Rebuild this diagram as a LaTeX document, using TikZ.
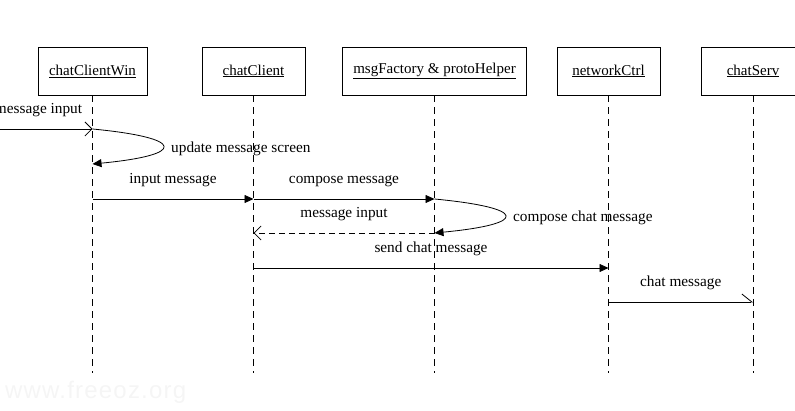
\documentclass[tikz,border=0pt]{standalone}
\usepackage{fontspec}
\setmainfont{Liberation Serif}
\setsansfont{Liberation Sans}
\newfontfamily\wmfont[LetterSpace=5.0]{Liberation Sans}
\usepackage{xcolor}
\usetikzlibrary{arrows.meta}

\tikzset{
  obj/.style={draw, line width=0.8pt, minimum width=103pt, minimum height=48pt,
    inner xsep=11pt, font=\fontsize{15}{18}\selectfont},
  lifeline/.style={line width=0.8pt, dash pattern=on 7pt off 5pt},
  msg/.style={line width=0.8pt, -{Triangle[length=9pt,width=8pt]}},
  ret/.style={line width=0.8pt, dash pattern=on 6pt off 4pt, -{Straight Barb[length=7pt,width=14pt]}},
  async/.style={line width=0.8pt, -{Straight Barb[left,length=10pt,width=16pt]}},
  lbl/.style={font=\fontsize{15.3}{18}\selectfont, inner sep=0pt},
  mlbl/.style={lbl, midway, anchor=base, yshift=15pt}
}

\begin{document}
\begin{tikzpicture}[x=1pt,y=-1pt]
\useasboundingbox (0,0) rectangle (795,411);

% objects
\node[obj] (win)  at (92.5,71) {\underline{chatClientWin}};
\node[obj] (cli)  at (253.5,71) {\underline{chatClient}};
\node[obj] (fac)  at (434.5,71) {\underline{msgFactory \& protoHelper}};
\node[obj] (net)  at (608.5,71) {\underline{networkCtrl}};
\node[obj] (serv) at (753,71) {\underline{chatServ}};

% lifelines
\foreach \o in {win,cli,fac,net,serv}{
\draw[lifeline] (\o.south) -- (\o.south |- 0,373);
}

% messages
\coordinate (ext) at (0,129);
\draw[line width=0.8pt, -{Straight Barb[length=7pt,width=14pt]}] (ext) -- (win.south |- 0,129)
  node[lbl, anchor=base east, xshift=-10pt, yshift=15pt] {message input};
\draw[msg] (win.south |- 0,129) .. controls +(94,9) and +(94,-9) .. (win.south |- 0,164);
\node[lbl, anchor=west] (upd) at (171,149) {update message screen};

\draw[msg] (win.south |- 0,199) -- (cli.south |- 0,199) node[mlbl] {input message};
\draw[msg] (cli.south |- 0,199) -- (fac.south |- 0,199) node[mlbl] {compose message};
\draw[msg] (fac.south |- 0,199) .. controls +(94,9) and +(94,-9) .. (fac.south |- 0,233);
\node[lbl, anchor=west] (cmp) at (513,218) {compose chat message};
\draw[ret] (fac.south |- 0,233) -- (cli.south |- 0,233) node[mlbl] {message input};
\draw[msg] (cli.south |- 0,268) -- (net.south |- 0,268) node[mlbl] {send chat message};
\draw[async] (net.south |- 0,302) -- (serv.south |- 0,302) node[mlbl] {chat message};

% watermark
\node[font=\wmfont\fontsize{24}{28}\selectfont, text=gray!8, anchor=base west, inner sep=0pt] (wm) at (5,399) {www.freeoz.org};
\end{tikzpicture}
\end{document}
